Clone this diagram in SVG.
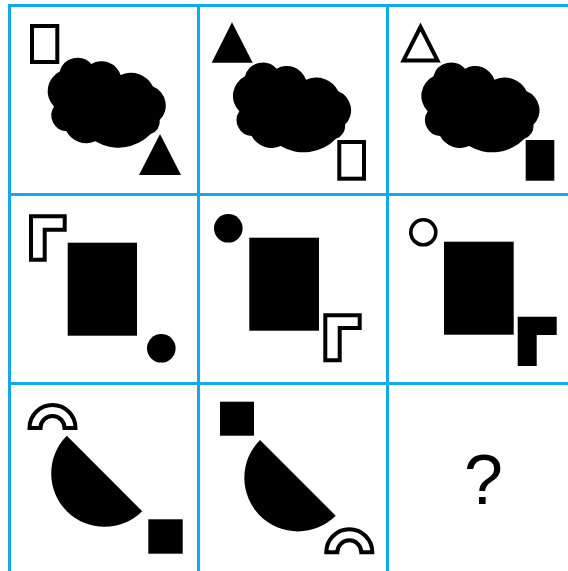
<svg xmlns="http://www.w3.org/2000/svg" xmlns:xlink="http://www.w3.org/1999/xlink" width="568" height="571" viewBox="0 0 568 571">
<style>
.grid{stroke:#12a9ec;stroke-width:3;fill:none}
.f{fill:#000}
.o{fill:#fff;stroke:#000;stroke-width:4;stroke-linejoin:miter}
.q{font-family:"Liberation Sans",Arial,sans-serif;font-size:70px;fill:#000}
</style>
<defs>
<path id="cloud" class="f" d="M245,76.3 A18.5,18.5 0 0 1 276.7,68.7 A20.3,20.3 0 0 1 306,79.7 A24.6,24.6 0 0 1 338.3,91.3 A20.3,20.3 0 0 1 345,124.7 A13,13 0 0 1 336,138.7 A45,45 0 0 1 280.7,146 A22.5,22.5 0 0 1 251.7,136 A15.9,15.9 0 0 1 239.3,111.3 A21.9,21.9 0 0 1 245,76.3 Z"/>
</defs>
<rect width="568" height="571" fill="#fff"/>
<g id="grid" class="grid">
<line x1="9.5" y1="4" x2="9.5" y2="571"/>
<line x1="198.5" y1="4" x2="198.5" y2="571"/>
<line x1="387.5" y1="4" x2="387.5" y2="571"/>
<line x1="8" y1="5.5" x2="568" y2="5.5"/>
<line x1="8" y1="194.5" x2="568" y2="194.5"/>
<line x1="8" y1="383.5" x2="568" y2="383.5"/>
</g>
<g id="cell1">
<rect class="o" x="32" y="26" width="25.3" height="36"/>
<use xlink:href="#cloud" x="-185.3" y="-4.7"/>
<polygon class="f" points="160,134 181,175 139,175"/>
</g>
<g id="cell2">
<polygon class="f" points="232,22.3 252.7,62.7 211.7,62.7"/>
<use xlink:href="#cloud" x="0" y="0"/>
<rect class="o" x="339.3" y="142" width="24.7" height="36.7"/>
</g>
<g id="cell3">
<polygon class="o" points="420.5,27 437.5,60.4 403.5,60.4"/>
<use xlink:href="#cloud" x="188.4" y="0"/>
<rect class="f" x="525.7" y="140" width="28.6" height="40.7"/>
</g>
<g id="cell4">
<polygon class="o" points="31,216.3 64.7,216.3 64.7,229.7 44.7,229.7 44.7,259.7 31,259.7"/>
<rect class="f" x="67.7" y="242.7" width="69.3" height="93"/>
<circle class="f" cx="161.3" cy="348.3" r="14.3"/>
</g>
<g id="cell5">
<circle class="f" cx="228.3" cy="228.3" r="14.3"/>
<rect class="f" x="249.3" y="237.7" width="69.7" height="93"/>
<polygon class="o" points="325.3,315.3 359.7,315.3 359.7,328 339.7,328 339.7,360.3 325.3,360.3"/>
</g>
<g id="cell6">
<circle cx="423.3" cy="232.3" r="12.5" fill="#fff" stroke="#000" stroke-width="3.6"/>
<rect class="f" x="444" y="241.7" width="69.7" height="93"/>
<polygon class="f" points="517.7,316.7 556.7,316.7 556.7,335 536.7,335 536.7,366 517.7,366"/>
</g>
<g id="cell7">
<path class="o" d="M29.5 428 A23 23 0 0 1 75.5 428 L64.5 428 A12 12 0 0 0 40.5 428 Z"/>
<path class="f" d="M66.8 435.8 A53.3 53.3 0 0 0 142.2 511.2 Z"/>
<rect class="f" x="148.3" y="519.3" width="34.4" height="34.4"/>
</g>
<g id="cell8">
<rect class="f" x="220" y="401.7" width="34" height="34"/>
<path class="f" d="M260 440 A53.5 53.5 0 0 0 335.7 515.7 Z"/>
<path class="o" d="M326.3 552.3 A23 23 0 0 1 372.3 552.3 L361.3 552.3 A12 12 0 0 0 337.3 552.3 Z"/>
</g>
<g id="cell9">
<text class="q" x="483.5" y="504" text-anchor="middle">?</text>
</g>
</svg>
